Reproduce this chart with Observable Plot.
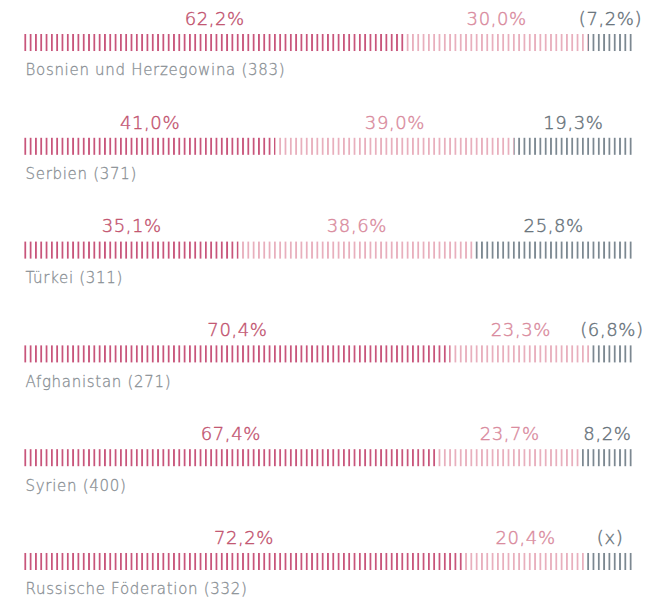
<!DOCTYPE html>
<html><head><meta charset="utf-8">
<script src="https://cdn.jsdelivr.net/npm/d3@7"></script>
<script src="https://cdn.jsdelivr.net/npm/@observablehq/plot@0.6"></script>
<style>
body{margin:0;background:#fff}
.val, .val text{letter-spacing:0.6px}
.cat, .cat text{letter-spacing:0.7px}
</style>
</head><body><div id="chart"></div>
<script>
const countries = ["Bosnien und Herzegowina","Serbien","Türkei","Afghanistan","Syrien","Russische Föderation"];
const counts = [383,371,311,271,400,332];
const seriesA = [62.2,41.0,35.1,70.4,67.4,72.2];
const seriesB = [30.0,39.0,38.6,23.3,23.7,20.4];
const seriesC = [7.2,19.3,25.8,6.8,8.2,7.4];
const labelsA = ["62,2%","41,0%","35,1%","70,4%","67,4%","72,2%"];
const labelsB = ["30,0%","39,0%","38,6%","23,3%","23,7%","20,4%"];
const labelsC = ["(7,2%)","19,3%","25,8%","(6,8%)","8,2%","(x)"];

const series = [
  {key:"a", values: seriesA, labels: labelsA, stripe:"#c8557b", text:"#c2536f"},
  {key:"b", values: seriesB, labels: labelsB, stripe:"#e8afbd", text:"#d98a9d"},
  {key:"c", values: seriesC, labels: labelsC, stripe:"#7c8891", text:"#67727a"}
];

const table = [];
countries.forEach((c, i) => {
  const total = series.reduce((s, ser) => s + ser.values[i], 0);
  let cum = 0;
  series.forEach(ser => {
    const v = ser.values[i];
    table.push({country: c, series: ser.key, value: v, label: ser.labels[i],
      x1: cum / total * 100, x2: (cum + v) / total * 100});
    cum += v;
  });
});

const font = "'DejaVu Sans', sans-serif";
const plot = Plot.plot({
  width: 646, height: 600,
  marginLeft: 24, marginRight: 14, marginTop: 0, marginBottom: 0,
  style: {fontFamily: font, background: "#fff"},
  x: {domain: [0, 100], axis: null},
  y: {type: "band", domain: countries, range: [34, 570], paddingInner: 0.836, paddingOuter: 0, round: false, axis: null},
  marks: [
    ...series.map(s => Plot.barX(table.filter(d => d.series === s.key),
      {x1: "x1", x2: "x2", y: "country", fill: `url(#stripe-${s.key})`})),
    ...series.map(s => Plot.text(table.filter(d => d.series === s.key),
      {x: d => (d.x1 + d.x2) / 2, y: "country", text: "label", dy: -24, fill: s.text,
       stroke: s.text, strokeWidth: 0.4,
       fontSize: 18, fontFamily: font, fontWeight: 300, className: "val"})),
    Plot.text(countries, {x: 0, y: d => d, text: (d, i) => `${d} (${counts[i]})`, textAnchor: "start", dy: 27.5, dx: 1,
      fill: "#8a9095", stroke: "#8a9095", strokeWidth: 0.3,
      fontSize: 15, fontFamily: font, fontWeight: 300, className: "cat"})
  ]
});

const ns = "http://www.w3.org/2000/svg";
const defs = document.createElementNS(ns, "defs");
series.forEach(s => {
  const p = document.createElementNS(ns, "pattern");
  p.setAttribute("id", `stripe-${s.key}`);
  p.setAttribute("patternUnits", "userSpaceOnUse");
  p.setAttribute("x", 24.4);
  p.setAttribute("y", 0);
  p.setAttribute("width", 5.31);
  p.setAttribute("height", 600);
  const r = document.createElementNS(ns, "rect");
  r.setAttribute("x", 0); r.setAttribute("y", 0);
  r.setAttribute("width", 1.8); r.setAttribute("height", 600);
  r.setAttribute("fill", s.stripe);
  p.appendChild(r);
  defs.appendChild(p);
});
plot.insertBefore(defs, plot.firstChild);
document.getElementById("chart").appendChild(plot);
</script>
</body></html>
